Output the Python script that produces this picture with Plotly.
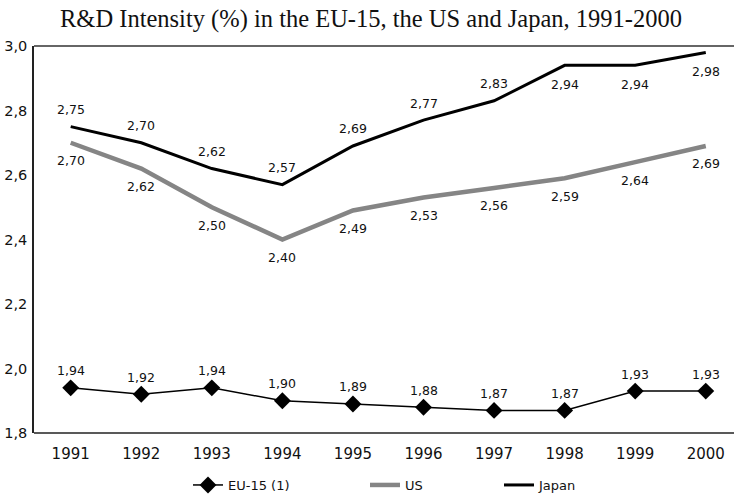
import plotly.graph_objects as go

years = [1991, 1992, 1993, 1994, 1995, 1996, 1997, 1998, 1999, 2000]
eu15 = [1.94, 1.92, 1.94, 1.90, 1.89, 1.88, 1.87, 1.87, 1.93, 1.93]
us = [2.70, 2.62, 2.50, 2.40, 2.49, 2.53, 2.56, 2.59, 2.64, 2.69]
japan = [2.75, 2.70, 2.62, 2.57, 2.69, 2.77, 2.83, 2.94, 2.94, 2.98]
y_ticks = [1.8, 2.0, 2.2, 2.4, 2.6, 2.8, 3.0]
title_text = "R&D Intensity (%) in the EU-15, the US and Japan, 1991-2000"

W, H = 734, 496
L, R, T, B = 34, 0, 46, 63
PW, PH = W - L - R, H - T - B
SANS = "DejaVu Sans"


def fmt(v, d=2):
    return f"{v:.{d}f}".replace(".", ",")


fig = go.Figure()
fig.add_trace(go.Scatter(
    x=years, y=eu15, mode="lines+markers", name="EU-15 (1)",
    line=dict(color="#000000", width=1.5),
    marker=dict(symbol="diamond", size=13, color="#000000"),
    legend="legend", showlegend=True,
))
fig.add_trace(go.Scatter(
    x=years, y=us, mode="lines", name="US",
    line=dict(color="#858585", width=4.5), legend="legend2", showlegend=True,
))
fig.add_trace(go.Scatter(
    x=years, y=japan, mode="lines", name="Japan",
    line=dict(color="#000000", width=3), legend="legend3", showlegend=True,
))

annotations = []
lab_font = dict(family=SANS, size=12.5, color="#111")
for i, yr in enumerate(years):
    annotations.append(dict(x=yr, y=eu15[i], text=fmt(eu15[i]), showarrow=False,
                            yanchor="middle", yshift=17, font=lab_font))
    annotations.append(dict(x=yr, y=us[i], text=fmt(us[i]), showarrow=False,
                            yanchor="middle", yshift=-18, font=lab_font))
    shift = 17 if yr < 1998 else -19
    annotations.append(dict(x=yr, y=japan[i], text=fmt(japan[i]), showarrow=False,
                            yanchor="middle", yshift=shift, font=lab_font))


def leg(px, py):
    return dict(x=(px - L) / PW, y=(H - B - py) / PH, xref="paper", yref="paper",
                xanchor="left", yanchor="middle", orientation="h",
                bgcolor="rgba(0,0,0,0)", font=dict(family=SANS, size=13, color="#111"))


fig.update_layout(
    width=W, height=H,
    margin=dict(l=L, r=R, t=T, b=B, autoexpand=False),
    paper_bgcolor="white", plot_bgcolor="white",
    title=dict(text=title_text, x=(W / 2 + 4) / W, xref="container", xanchor="center",
               y=1 - 18 / H, yref="container", yanchor="middle",
               font=dict(family="Liberation Serif", size=24.5, color="#111")),
    xaxis=dict(range=[years[0] - 0.52, years[-1] + 0.4], tickvals=years,
               ticktext=[str(y) for y in years], showgrid=False, zeroline=False,
               showline=False, ticks="", ticklabelstandoff=10, automargin=False,
               tickfont=dict(family=SANS, size=15, color="#111")),
    yaxis=dict(range=[1.8, 3.0], tickvals=y_ticks, ticktext=[fmt(v, 1) for v in y_ticks],
               showgrid=False, zeroline=False, showline=True, linecolor="#222",
               linewidth=1.5, ticks="", ticklabelstandoff=2, automargin=False,
               tickfont=dict(family=SANS, size=14.5, color="#111")),
    shapes=[
        dict(type="line", xref="paper", yref="paper", x0=0, x1=1, y0=0, y1=0,
             line=dict(color="#222", width=1.5)),
        dict(type="line", xref="paper", yref="paper", x0=0, x1=1, y0=1, y1=1,
             line=dict(color="#333", width=1.5)),
    ],
    annotations=annotations,
    legend=leg(188, 485),
    legend2=leg(365, 485),
    legend3=leg(499, 485),
)

fig.write_html("out.html", config={"displayModeBar": False},
               post_script="document.body.style.margin='0';")
